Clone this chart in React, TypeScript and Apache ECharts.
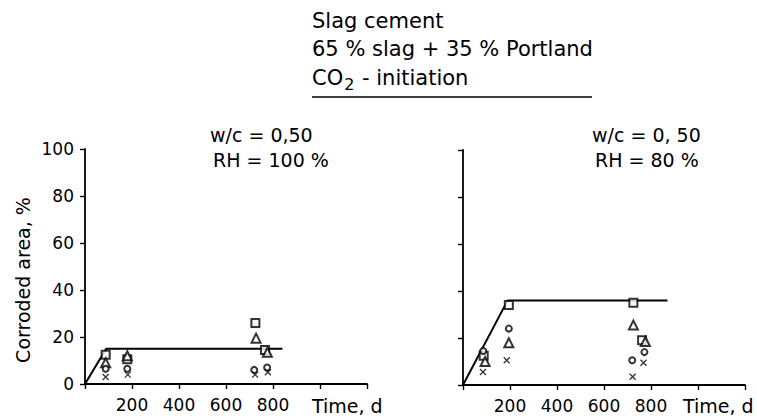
import React, { useEffect, useRef } from "react";
import * as echarts from "echarts";

const FONT = "DejaVu Sans";

const xTickLabels = ["200", "400", "600", "800"];
const yMax = 100;
const xMax = 1200;

const titleLines = ["Slag cement", "65 % slag + 35 % Portland"];
const titleCO2 = ["CO", "2", " - initiation"];
const leftNote = ["w/c = 0,50", "RH = 100 %"];
const rightNote = ["w/c = 0, 50", "RH = 80 %"];
const yName = "Corroded area, %";
const xName = "Time, d";

// Left panel: RH = 100 %
const leftLine = [[0, 0], [90, 15], [840, 15]];
const leftSquares = [[88, 12.5], [180, 10.5], [725, 26], [766, 14.5]];
const leftTriangles = [[88, 9], [180, 12], [728, 19.5], [776, 13.5]];
const leftCircles = [[88, 6.5], [180, 6.5], [720, 6], [775, 7]];
const leftCrosses = [[88, 3], [182, 4], [724, 4], [778, 5]];

// Right panel: RH = 80 %
const rightLine = [[0, 0], [190, 36], [870, 36]];
const rightSquares = [[88, 12.5], [195, 34], [725, 35], [762, 19]];
const rightTriangles = [[94, 10], [195, 18], [725, 25.5], [776, 18.5]];
const rightCircles = [[86, 14.5], [195, 24], [720, 10.5], [772, 14]];
const rightCrosses = [[85, 5.5], [186, 10.5], [722, 3.5], [768, 9.5]];

const CROSS = "path://M0,0L10,10M10,0L0,10";

function scatter(data: number[][], symbol: string, size: number, idx: number) {
  const isCross = symbol === CROSS;
  return {
    type: "scatter",
    xAxisIndex: idx,
    yAxisIndex: idx,
    data,
    symbol,
    symbolSize: size,
    z: 5,
    itemStyle: isCross
      ? { color: "none", borderColor: "#000", borderWidth: 1.3 }
      : { color: "#000", borderColor: "#000", borderWidth: 1.3 },
  };
}

function lineSeries(data: number[][], idx: number) {
  return {
    type: "line",
    xAxisIndex: idx,
    yAxisIndex: idx,
    data,
    symbol: "none",
    lineStyle: { color: "#000", width: 2 },
    z: 2,
  };
}

function xAxis(idx: number) {
  return {
    type: "value",
    gridIndex: idx,
    min: 0,
    max: xMax,
    interval: 200,
    axisLine: { show: true, lineStyle: { color: "#000", width: 1.8 } },
    axisTick: { show: true, length: 5, lineStyle: { color: "#000", width: 1.4 } },
    splitLine: { show: false },
    axisLabel: {
      color: "#000",
      fontFamily: FONT,
      fontSize: 17,
      margin: 12,
      formatter: (v: number) => (xTickLabels.includes(String(v)) ? String(v) : ""),
    },
  };
}

function yAxis(idx: number, showLabels: boolean) {
  return {
    type: "value",
    gridIndex: idx,
    min: 0,
    max: yMax,
    interval: 20,
    axisLine: { show: true, lineStyle: { color: "#000", width: 1.8 } },
    axisTick: { show: true, length: 5, lineStyle: { color: "#000", width: 1.4 } },
    splitLine: { show: false },
    axisLabel: {
      show: showLabels,
      color: "#000",
      fontFamily: FONT,
      fontSize: 17,
      margin: 11,
    },
  };
}

function txt(text: string, x: number, y: number, size = 19) {
  return {
    type: "text",
    x,
    y,
    style: {
      text,
      fill: "#000",
      font: `${size}px "${FONT}"`,
      textAlign: "left",
      textVerticalAlign: "middle",
    },
  };
}

export default function App() {
  const ref = useRef<HTMLDivElement>(null);
  useEffect(() => {
    if (!ref.current) return;
    const chart = echarts.init(ref.current, null, { renderer: "svg" });
    chart.setOption({
      animation: false,
      backgroundColor: "#fff",
      grid: [
        { left: 85, top: 149, width: 282, bottom: 36 },
        { left: 463, top: 150, width: 282, bottom: 35 },
      ],
      xAxis: [xAxis(0), xAxis(1)],
      yAxis: [yAxis(0, true), yAxis(1, false)],
      series: [
        lineSeries(leftLine, 0),
        scatter(leftSquares, "emptyRect", 8, 0),
        scatter(leftTriangles, "emptyTriangle", 9, 0),
        scatter(leftCircles, "emptyCircle", 6, 0),
        scatter(leftCrosses, CROSS, 6, 0),
        lineSeries(rightLine, 1),
        scatter(rightSquares, "emptyRect", 8, 1),
        scatter(rightTriangles, "emptyTriangle", 9, 1),
        scatter(rightCircles, "emptyCircle", 6, 1),
        scatter(rightCrosses, CROSS, 6, 1),
      ],
      graphic: [
        txt(titleLines[0], 312, 21, 21),
        txt(titleLines[1], 312, 49, 21),
        {
          type: "text",
          x: 312,
          y: 78,
          style: {
            text: `{a|${titleCO2[0]}}{s|${titleCO2[1]}}{a|${titleCO2[2]}}`,
            textAlign: "left",
            textVerticalAlign: "middle",
            rich: {
              a: {
                fontFamily: FONT,
                fontSize: 21,
                fill: "#000",
                color: "#000",
                verticalAlign: "middle",
              },
              s: {
                fontFamily: FONT,
                fontSize: 16,
                fill: "#000",
                color: "#000",
                verticalAlign: "middle",
                padding: [12, 1, 0, 1],
              },
            },
          },
        },
        {
          type: "line",
          shape: { x1: 312, y1: 97, x2: 592, y2: 97 },
          style: { stroke: "#000", lineWidth: 1.6 },
        },
        txt(leftNote[0], 210, 135),
        txt(leftNote[1], 213, 160),
        txt(rightNote[0], 592, 135),
        txt(rightNote[1], 595, 160),
        txt(xName, 312, 406),
        txt(xName, 683, 406),
        {
          type: "text",
          x: 23,
          y: 280,
          rotation: Math.PI / 2,
          style: {
            text: yName,
            fill: "#000",
            font: `19px "${FONT}"`,
            textAlign: "center",
            textVerticalAlign: "middle",
          },
        },
      ],
    });
    return () => chart.dispose();
  }, []);
  return (
    <div
      ref={ref}
      style={{ position: "fixed", left: 0, top: 0, width: 757, height: 420 }}
    />
  );
}
